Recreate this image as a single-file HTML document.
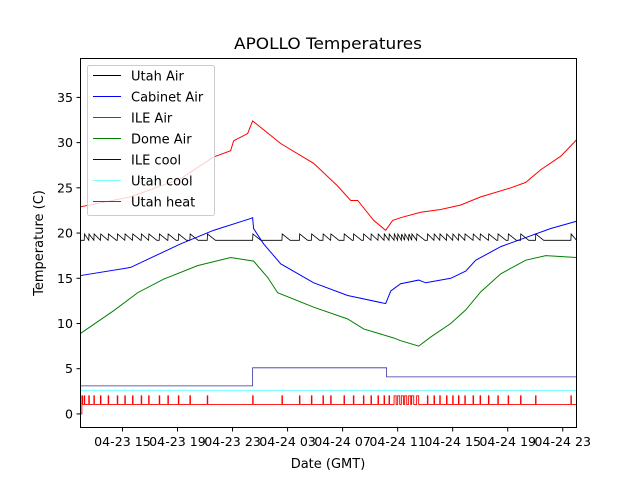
<!DOCTYPE html>
<html><head><meta charset="utf-8"><style>
body{margin:0;background:#fff}
svg{display:block;font-family:"DejaVu Sans","Liberation Sans",sans-serif}
</style></head><body>
<svg id="chart" width="640" height="480" viewBox="0 0 640 480" xmlns="http://www.w3.org/2000/svg">
<rect width="640" height="480" fill="#fff"/>
<text x="328" y="49" font-size="16" text-anchor="middle" textLength="188" lengthAdjust="spacingAndGlyphs">APOLLO Temperatures</text>
<g id="plot"></g>
<rect x="80.5" y="58.5" width="496" height="369" fill="none" stroke="#000" stroke-width="1"/>
<g id="xticks"></g>
<g id="yticks"></g>
<text x="328" y="468" font-size="13" text-anchor="middle">Date (GMT)</text>
<text transform="translate(43,243) rotate(-90)" font-size="13" text-anchor="middle">Temperature (C)</text>
<g id="legend"></g>
</svg>
<script>
// hours since 04-23 00:00 GMT
const yTickValues = [0,5,10,15,20,25,30,35];
const xTickHours = [15,19,23,27,31,35,39,43,47];
const xTickLabels = ["04-23 15","04-23 19","04-23 23","04-24 03","04-24 07","04-24 11","04-24 15","04-24 19","04-24 23"];

const ileAirT = [11.95,15.59,19.22,21.62,22.86,23.08,24.1,24.46,26.5,28.9,30.64,31.59,32.1,33.26,34.13,34.64,35.22,36.68,38.13,39.59,41.04,43.23,44.31,45.4,46.86,48.0];
const ileAirV = [22.9,24.0,26.0,28.4,29.1,30.2,31.0,32.4,29.9,27.7,25.2,23.6,23.6,21.4,20.3,21.4,21.7,22.3,22.6,23.1,24.0,25.0,25.6,27.0,28.5,30.3];

const cabinetT = [11.95,15.59,19.22,21.62,24.31,24.46,24.53,25.26,26.5,28.9,31.37,34.13,34.5,35.22,36.53,37.04,38.86,39.95,40.68,42.5,44.31,46.13,48.0];
const cabinetV = [15.3,16.2,18.8,20.3,21.6,21.7,20.5,18.8,16.6,14.5,13.1,12.2,13.6,14.4,14.8,14.5,15.0,15.8,17.0,18.5,19.5,20.5,21.3];

const domeT = [11.95,14.35,16.1,17.99,20.46,22.86,24.53,25.55,26.28,28.9,31.37,32.53,34.71,35.22,36.53,37.4,38.86,39.95,41.04,42.5,44.31,45.77,48.0];
const domeV = [8.9,11.4,13.4,14.9,16.4,17.3,16.9,15.1,13.4,11.8,10.5,9.4,8.4,8.1,7.5,8.5,10.0,11.5,13.5,15.5,17.0,17.5,17.3];

const heatPulses = [12.22,12.55,12.92,13.4,13.96,14.62,15.17,15.73,16.36,16.9,17.67,18.3,19.06,19.9,21.16,24.46,26.59,27.86,28.73,29.57,30.13,31.1,31.78,32.51,33.06,33.57,34.01,34.37,34.74,35.0,35.27,35.51,35.8,36.02,36.38,37.16,37.64,38.06,38.55,39.0,39.42,39.88,40.48,40.99,41.6,42.28,43.03,43.93,45.02,47.59];
const ileCoolT = [11.95,24.46,34.2,48.0];
const ileCoolV = [3.1,5.1,4.1,4.1];
const utahCoolLevel = [2.6];
const utahAirLevels = [19.2,19.9];

const X0=11.95, X1=48.0, Y0=-1.5, Y1=39.3;
function sx(h){return 80.5+(h-X0)/(X1-X0)*496;}
function sy(v){return 427.5-(v-Y0)/(Y1-Y0)*369;}
const NS="http://www.w3.org/2000/svg";
function mk(tag,attrs,parent){const e=document.createElementNS(NS,tag);for(const k in attrs)e.setAttribute(k,attrs[k]);parent.appendChild(e);return e;}
function pathFrom(ts,vs){return ts.map((t,i)=>(i?"L":"M")+sx(t).toFixed(2)+","+sy(vs[i]).toFixed(2)).join("");}

const plot=document.getElementById("plot");
(function(){
  let t=[X0],v=[utahAirLevels[0]];
  for(let i=0;i<heatPulses.length;i++){
    const p=heatPulses[i], nx=i+1<heatPulses.length?heatPulses[i+1]:X1;
    t.push(p);v.push(utahAirLevels[0]);
    t.push(p+0.02);v.push(utahAirLevels[1]);
    const end=Math.min(nx,p+0.6);
    t.push(end);v.push(utahAirLevels[0]);
  }
  t.push(X1);v.push(utahAirLevels[0]);
  const e=mk("path",{d:pathFrom(t,v),fill:"none",stroke:"#000","stroke-width":0.8},plot);
  
  
})();
let e;
e=mk("path",{d:pathFrom(cabinetT,cabinetV),fill:"none",stroke:"#0000ff","stroke-width":1},plot);


e=mk("path",{d:pathFrom(ileAirT,ileAirV),fill:"none",stroke:"#ff0000","stroke-width":1},plot);


e=mk("path",{d:pathFrom(domeT,domeV),fill:"none",stroke:"#008000","stroke-width":1},plot);


(function(){
  let t=[],v=[];
  for(let i=0;i<ileCoolT.length;i++){ if(i){t.push(ileCoolT[i]);v.push(ileCoolV[i-1]);} t.push(ileCoolT[i]);v.push(ileCoolV[i]); }
  const e=mk("path",{d:pathFrom(t,v),fill:"none",stroke:"#00008b","stroke-width":0.8,opacity:0.8},plot);
  
  
})();
e=mk("path",{d:pathFrom([X0,X1],[utahCoolLevel[0],utahCoolLevel[0]]),fill:"none",stroke:"#7fffff","stroke-width":1.2},plot);


(function(){
  let t=[X0,12.05,12.05],v=[0,0,2];
  t.push(12.1);v.push(2);t.push(12.1);v.push(1.05);
  for(const p of heatPulses){ const w=(p>34.7&&p<36.4)?0.15:0.04; t.push(p,p,p+w,p+w);v.push(1.05,2,2,1.05); }
  t.push(X1);v.push(1.05);
  const e=mk("path",{d:pathFrom(t,v),fill:"none",stroke:"#ff0000","stroke-width":0.9},plot);
  
  
})();

const xt=document.getElementById("xticks");
xTickHours.forEach((h,i)=>{
  const x=sx(h);
  const l=mk("line",{x1:x,x2:x,y1:427.5,y2:431.5,stroke:"#000"},xt);
  
  
  const tx=mk("text",{x:x,y:446,"font-size":12.6,"text-anchor":"middle"},xt);
  
  
  tx.textContent=xTickLabels[i];
});
const yt=document.getElementById("yticks");
yTickValues.forEach(v=>{
  const y=sy(v);
  const l=mk("line",{x1:76.5,x2:80.5,y1:y,y2:y,stroke:"#000"},yt);
  
  
  const tx=mk("text",{x:73,y:y+4.5,"font-size":12.6,"text-anchor":"end"},yt);
  
  
  tx.textContent=v;
});

const legendNames=["Utah Air","Cabinet Air","ILE Air","Dome Air","ILE cool","Utah cool","Utah heat"];
const legendColors=["#000000","#0000ff","#ff0000","#008000","#00008b","#7fffff","#ff0000"];
const lg=document.getElementById("legend");
const box=mk("rect",{x:87.5,y:65.5,width:127,height:150,rx:2,fill:"#fff","fill-opacity":0.8,stroke:"#ccc"},lg);


legendNames.forEach((n,i)=>{
  const y=75.5+i*21;
  const l=mk("line",{x1:93,x2:121,y1:y,y2:y,stroke:legendColors[i],"stroke-width":1},lg);
  
  
  const tx=mk("text",{x:131,y:y+5,"font-size":13},lg);
  
  
  tx.textContent=n;
});
</script>
</body></html>
